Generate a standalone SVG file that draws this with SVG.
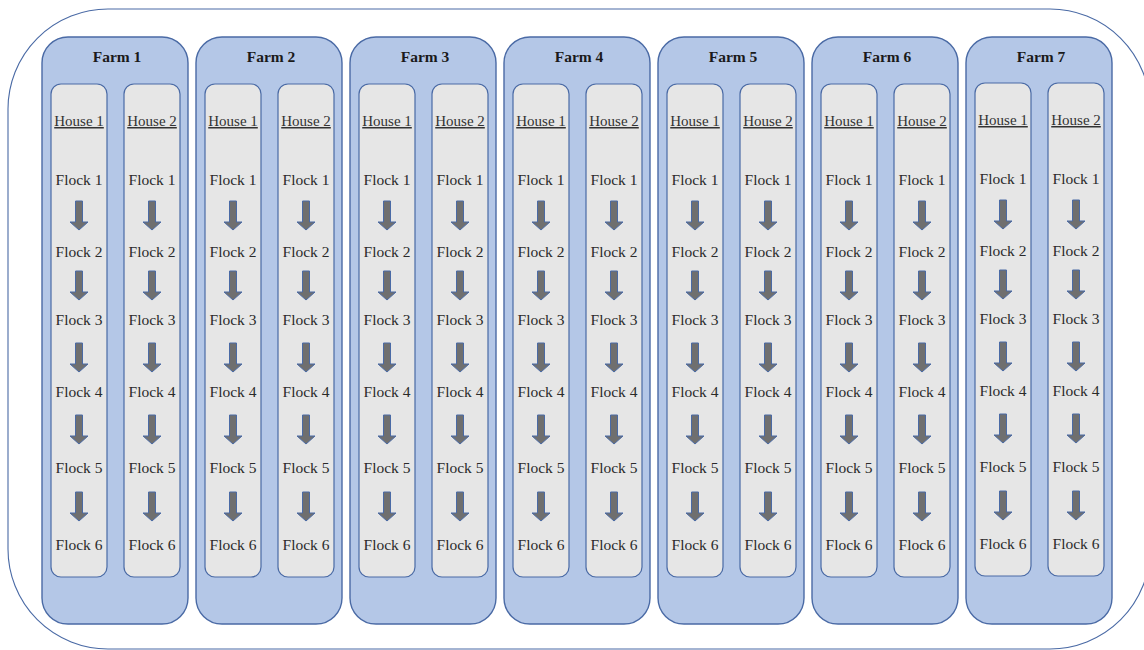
<svg xmlns="http://www.w3.org/2000/svg" xmlns:xlink="http://www.w3.org/1999/xlink" width="1144" height="650" viewBox="0 0 1144 650">
  <style>
    .outer { fill: #ffffff; stroke: #4a6aa5; stroke-width: 1.1; }
    .farm { fill: #b4c7e7; stroke: #4a6aa5; stroke-width: 1.4; }
    .house { fill: #e6e6e6; stroke: #4a6aa5; stroke-width: 1.2; }
    .farm-label { font-weight: bold; font-size: 15.5px; fill: #1a1a1a; }
    .house-label { font-size: 15px; fill: #333333; text-decoration: underline; }
    .flock { font-size: 15.5px; fill: #2a2a2a; }
    .arrow { fill: #6f6f6f; stroke: #4a6aa5; stroke-width: 1; }
  </style>
  <defs>
    <!-- downward block arrow, origin at top centre of the shaft -->
    <path id="down" class="arrow" d="M -3.5 0 H 3.5 V 21 H 9 L 0 29 L -9 21 H -3.5 Z"/>
    <!-- rounded box of one house column -->
    <rect id="house-body" class="house" x="-28" y="84" width="56" height="493" rx="10"/>
    <!-- five flock-to-flock arrows of one house column -->
    <g id="arrow-column">
      <use xlink:href="#down" y="201"/>
      <use xlink:href="#down" y="271"/>
      <use xlink:href="#down" y="343"/>
      <use xlink:href="#down" y="415"/>
      <use xlink:href="#down" y="492"/>
    </g>
  </defs>

  <rect class="outer" x="8" y="9" width="1142" height="640" rx="100"/>

  <g font-family="Liberation Serif, serif" text-anchor="middle">
  <!-- Farm 1 -->
  <g id="farm1" transform="translate(42,0)">
    <rect class="farm" x="0" y="37" width="146" height="587" rx="26"/>
    <text class="farm-label" x="75" y="62">Farm 1</text>
    <g id="farm1-house1" transform="translate(37,0)">
      <use xlink:href="#house-body"/>
      <text class="house-label" x="0" y="126">House 1</text>
      <text class="flock" x="0" y="185">Flock 1</text>
      <text class="flock" x="0" y="257">Flock 2</text>
      <text class="flock" x="0" y="325">Flock 3</text>
      <text class="flock" x="0" y="397">Flock 4</text>
      <text class="flock" x="0" y="473">Flock 5</text>
      <text class="flock" x="0" y="550">Flock 6</text>
    </g>
    <g id="farm1-house2" transform="translate(110,0)">
      <use xlink:href="#house-body"/>
      <text class="house-label" x="0" y="126">House 2</text>
      <text class="flock" x="0" y="185">Flock 1</text>
      <text class="flock" x="0" y="257">Flock 2</text>
      <text class="flock" x="0" y="325">Flock 3</text>
      <text class="flock" x="0" y="397">Flock 4</text>
      <text class="flock" x="0" y="473">Flock 5</text>
      <text class="flock" x="0" y="550">Flock 6</text>
    </g>
  </g>

  <!-- Farm 2 -->
  <g id="farm2" transform="translate(196,0)">
    <rect class="farm" x="0" y="37" width="146" height="587" rx="26"/>
    <text class="farm-label" x="75" y="62">Farm 2</text>
    <g id="farm2-house1" transform="translate(37,0)">
      <use xlink:href="#house-body"/>
      <text class="house-label" x="0" y="126">House 1</text>
      <text class="flock" x="0" y="185">Flock 1</text>
      <text class="flock" x="0" y="257">Flock 2</text>
      <text class="flock" x="0" y="325">Flock 3</text>
      <text class="flock" x="0" y="397">Flock 4</text>
      <text class="flock" x="0" y="473">Flock 5</text>
      <text class="flock" x="0" y="550">Flock 6</text>
    </g>
    <g id="farm2-house2" transform="translate(110,0)">
      <use xlink:href="#house-body"/>
      <text class="house-label" x="0" y="126">House 2</text>
      <text class="flock" x="0" y="185">Flock 1</text>
      <text class="flock" x="0" y="257">Flock 2</text>
      <text class="flock" x="0" y="325">Flock 3</text>
      <text class="flock" x="0" y="397">Flock 4</text>
      <text class="flock" x="0" y="473">Flock 5</text>
      <text class="flock" x="0" y="550">Flock 6</text>
    </g>
  </g>

  <!-- Farm 3 -->
  <g id="farm3" transform="translate(350,0)">
    <rect class="farm" x="0" y="37" width="146" height="587" rx="26"/>
    <text class="farm-label" x="75" y="62">Farm 3</text>
    <g id="farm3-house1" transform="translate(37,0)">
      <use xlink:href="#house-body"/>
      <text class="house-label" x="0" y="126">House 1</text>
      <text class="flock" x="0" y="185">Flock 1</text>
      <text class="flock" x="0" y="257">Flock 2</text>
      <text class="flock" x="0" y="325">Flock 3</text>
      <text class="flock" x="0" y="397">Flock 4</text>
      <text class="flock" x="0" y="473">Flock 5</text>
      <text class="flock" x="0" y="550">Flock 6</text>
    </g>
    <g id="farm3-house2" transform="translate(110,0)">
      <use xlink:href="#house-body"/>
      <text class="house-label" x="0" y="126">House 2</text>
      <text class="flock" x="0" y="185">Flock 1</text>
      <text class="flock" x="0" y="257">Flock 2</text>
      <text class="flock" x="0" y="325">Flock 3</text>
      <text class="flock" x="0" y="397">Flock 4</text>
      <text class="flock" x="0" y="473">Flock 5</text>
      <text class="flock" x="0" y="550">Flock 6</text>
    </g>
  </g>

  <!-- Farm 4 -->
  <g id="farm4" transform="translate(504,0)">
    <rect class="farm" x="0" y="37" width="146" height="587" rx="26"/>
    <text class="farm-label" x="75" y="62">Farm 4</text>
    <g id="farm4-house1" transform="translate(37,0)">
      <use xlink:href="#house-body"/>
      <text class="house-label" x="0" y="126">House 1</text>
      <text class="flock" x="0" y="185">Flock 1</text>
      <text class="flock" x="0" y="257">Flock 2</text>
      <text class="flock" x="0" y="325">Flock 3</text>
      <text class="flock" x="0" y="397">Flock 4</text>
      <text class="flock" x="0" y="473">Flock 5</text>
      <text class="flock" x="0" y="550">Flock 6</text>
    </g>
    <g id="farm4-house2" transform="translate(110,0)">
      <use xlink:href="#house-body"/>
      <text class="house-label" x="0" y="126">House 2</text>
      <text class="flock" x="0" y="185">Flock 1</text>
      <text class="flock" x="0" y="257">Flock 2</text>
      <text class="flock" x="0" y="325">Flock 3</text>
      <text class="flock" x="0" y="397">Flock 4</text>
      <text class="flock" x="0" y="473">Flock 5</text>
      <text class="flock" x="0" y="550">Flock 6</text>
    </g>
  </g>

  <!-- Farm 5 -->
  <g id="farm5" transform="translate(658,0)">
    <rect class="farm" x="0" y="37" width="146" height="587" rx="26"/>
    <text class="farm-label" x="75" y="62">Farm 5</text>
    <g id="farm5-house1" transform="translate(37,0)">
      <use xlink:href="#house-body"/>
      <text class="house-label" x="0" y="126">House 1</text>
      <text class="flock" x="0" y="185">Flock 1</text>
      <text class="flock" x="0" y="257">Flock 2</text>
      <text class="flock" x="0" y="325">Flock 3</text>
      <text class="flock" x="0" y="397">Flock 4</text>
      <text class="flock" x="0" y="473">Flock 5</text>
      <text class="flock" x="0" y="550">Flock 6</text>
    </g>
    <g id="farm5-house2" transform="translate(110,0)">
      <use xlink:href="#house-body"/>
      <text class="house-label" x="0" y="126">House 2</text>
      <text class="flock" x="0" y="185">Flock 1</text>
      <text class="flock" x="0" y="257">Flock 2</text>
      <text class="flock" x="0" y="325">Flock 3</text>
      <text class="flock" x="0" y="397">Flock 4</text>
      <text class="flock" x="0" y="473">Flock 5</text>
      <text class="flock" x="0" y="550">Flock 6</text>
    </g>
  </g>

  <!-- Farm 6 -->
  <g id="farm6" transform="translate(812,0)">
    <rect class="farm" x="0" y="37" width="146" height="587" rx="26"/>
    <text class="farm-label" x="75" y="62">Farm 6</text>
    <g id="farm6-house1" transform="translate(37,0)">
      <use xlink:href="#house-body"/>
      <text class="house-label" x="0" y="126">House 1</text>
      <text class="flock" x="0" y="185">Flock 1</text>
      <text class="flock" x="0" y="257">Flock 2</text>
      <text class="flock" x="0" y="325">Flock 3</text>
      <text class="flock" x="0" y="397">Flock 4</text>
      <text class="flock" x="0" y="473">Flock 5</text>
      <text class="flock" x="0" y="550">Flock 6</text>
    </g>
    <g id="farm6-house2" transform="translate(110,0)">
      <use xlink:href="#house-body"/>
      <text class="house-label" x="0" y="126">House 2</text>
      <text class="flock" x="0" y="185">Flock 1</text>
      <text class="flock" x="0" y="257">Flock 2</text>
      <text class="flock" x="0" y="325">Flock 3</text>
      <text class="flock" x="0" y="397">Flock 4</text>
      <text class="flock" x="0" y="473">Flock 5</text>
      <text class="flock" x="0" y="550">Flock 6</text>
    </g>
  </g>

  <!-- Farm 7 (contents sit one pixel higher) -->
  <g id="farm7" transform="translate(966,0)">
    <rect class="farm" x="0" y="37" width="146" height="587" rx="26"/>
    <text class="farm-label" x="75" y="62">Farm 7</text>
    <g id="farm7-house1" transform="translate(37,-1)">
      <use xlink:href="#house-body"/>
      <text class="house-label" x="0" y="126">House 1</text>
      <text class="flock" x="0" y="185">Flock 1</text>
      <text class="flock" x="0" y="257">Flock 2</text>
      <text class="flock" x="0" y="325">Flock 3</text>
      <text class="flock" x="0" y="397">Flock 4</text>
      <text class="flock" x="0" y="473">Flock 5</text>
      <text class="flock" x="0" y="550">Flock 6</text>
    </g>
    <g id="farm7-house2" transform="translate(110,-1)">
      <use xlink:href="#house-body"/>
      <text class="house-label" x="0" y="126">House 2</text>
      <text class="flock" x="0" y="185">Flock 1</text>
      <text class="flock" x="0" y="257">Flock 2</text>
      <text class="flock" x="0" y="325">Flock 3</text>
      <text class="flock" x="0" y="397">Flock 4</text>
      <text class="flock" x="0" y="473">Flock 5</text>
      <text class="flock" x="0" y="550">Flock 6</text>
    </g>
  </g>
  </g>

  <!-- flock-to-flock arrows, one column of five per house -->
  <g id="connectors">
    <use xlink:href="#arrow-column" x="79"/>
    <use xlink:href="#arrow-column" x="152"/>
    <use xlink:href="#arrow-column" x="233"/>
    <use xlink:href="#arrow-column" x="306"/>
    <use xlink:href="#arrow-column" x="387"/>
    <use xlink:href="#arrow-column" x="460"/>
    <use xlink:href="#arrow-column" x="541"/>
    <use xlink:href="#arrow-column" x="614"/>
    <use xlink:href="#arrow-column" x="695"/>
    <use xlink:href="#arrow-column" x="768"/>
    <use xlink:href="#arrow-column" x="849"/>
    <use xlink:href="#arrow-column" x="922"/>
    <use xlink:href="#arrow-column" x="1003" y="-1"/>
    <use xlink:href="#arrow-column" x="1076" y="-1"/>
  </g>
</svg>
